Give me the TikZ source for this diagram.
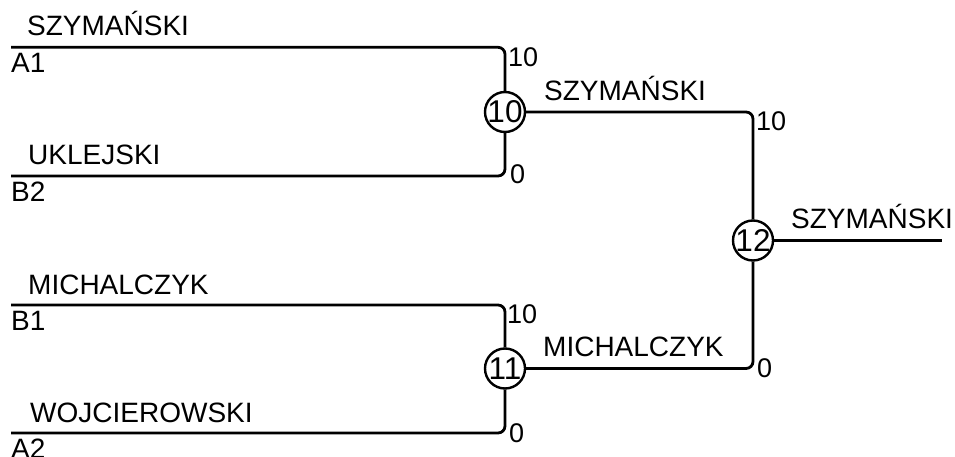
\documentclass[tikz,border=0pt]{standalone}
\usepackage{fontspec}
\setmainfont{Liberation Sans}

\begin{document}
\begin{tikzpicture}[
  x = 1pt,
  y = -1pt,
  font = \fontsize{28}{32}\selectfont,
  bracket/.style = {line width=2.8pt, rounded corners=7pt},
  match/.style = {draw, circle, line width=2.4pt, minimum size=40pt, inner sep=0pt,
    font=\fontsize{31.5}{33}\selectfont},
  player/.style = {anchor=base west, inner sep=0pt},
  seed/.style = {anchor=base west, inner sep=0pt},
  score/.style = {anchor=base west, inner sep=0pt, font=\fontsize{27}{30}\selectfont}]
  \useasboundingbox (0,0) rectangle (955,457);

  \node[match] (semiTop) at (505,112) {\makebox[0pt]{10}};
  \node[match] (semiBottom) at (505,368.5) {\makebox[0pt]{11}};
  \node[match] (final) at (753,240.5) {\makebox[0pt]{12}};

  \coordinate (lineA1) at (11,47.3);
  \coordinate (lineB2) at (11,176);
  \coordinate (lineB1) at (11,305);
  \coordinate (lineA2) at (11,433);
  \coordinate (winner) at (942,240.5);

  \draw[bracket] (lineA1) -| (semiTop);
  \draw[bracket] (lineB2) -| (semiTop);
  \draw[bracket] (lineB1) -| (semiBottom);
  \draw[bracket] (lineA2) -| (semiBottom);
  \draw[bracket] (semiTop) -| (final);
  \draw[bracket] (semiBottom) -| (final);
  \draw[bracket] (final) -- (winner);

  \node[player] (nameA1) at (27,36) {SZYMAŃSKI};
  \node[seed] (seedA1) at (11,73) {A1};
  \node[player] (nameB2) at (28,165) {UKLEJSKI};
  \node[seed] (seedB2) at (11,201.5) {B2};
  \node[player] (nameB1) at (28,294) {MICHALCZYK};
  \node[seed] (seedB1) at (11,330.5) {B1};
  \node[player] (nameA2) at (30,422) {WOJCIEROWSKI};
  \node[seed] (seedA2) at (11,458) {A2};

  \node[player] (nameTop) at (544,101) {SZYMAŃSKI};
  \node[player] (nameBottom) at (543,356.5) {MICHALCZYK};
  \node[player] (nameFinal) at (791,228.5) {SZYMAŃSKI};

  \node[score] (scoreA1) at (508,67) {10};
  \node[score] (scoreB2) at (510,184) {0};
  \node[score] (scoreB1) at (507,323) {10};
  \node[score] (scoreA2) at (509,442) {0};
  \node[score] (scoreTop) at (756,131) {10};
  \node[score] (scoreBottom) at (757,377) {0};
\end{tikzpicture}
\end{document}
